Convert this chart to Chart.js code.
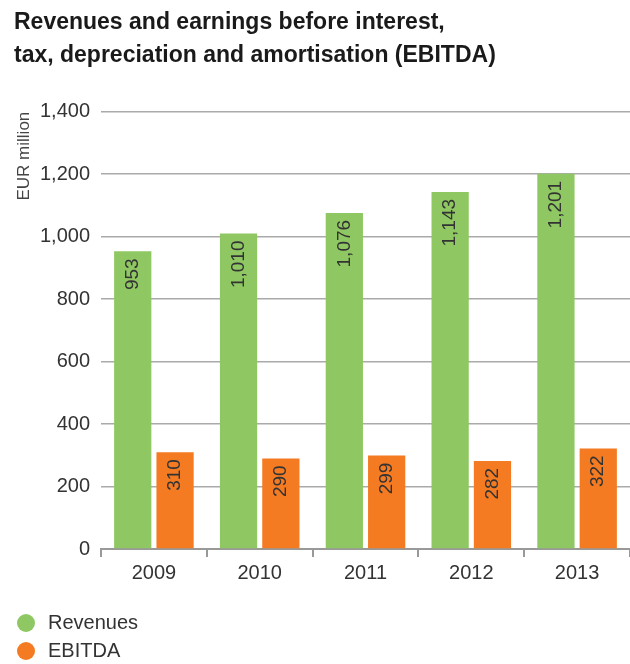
<!DOCTYPE html>
<html>
<head>
<meta charset="utf-8">
<script src="https://cdn.jsdelivr.net/npm/chart.js@4"></script>
<style>
  html, body { margin: 0; padding: 0; background: #fff; }
  #wrap { width: 630px; height: 664px; }
</style>
</head>
<body>
<div id="wrap"><canvas id="myChart"></canvas></div>
<script>
var years = ["2009", "2010", "2011", "2012", "2013"];
var revenues = [953, 1010, 1076, 1143, 1201];
var ebitda = [310, 290, 299, 282, 322];
var yTicks = [0, 200, 400, 600, 800, 1000, 1200, 1400];

var fontFamily = "'Liberation Sans', Arial, sans-serif";
var greenColor = "#8fc862";
var orangeColor = "#f47b22";

// numbers written upright inside the top of each bar
var barLabels = {
    id: "barLabels",
    afterDatasetsDraw: function (chart) {
        var ctx = chart.ctx;
        ctx.save();
        ctx.font = "19px " + fontFamily;
        ctx.fillStyle = "#333";
        ctx.textAlign = "right";
        ctx.textBaseline = "middle";
        chart.data.datasets.forEach(function (ds, i) {
            chart.getDatasetMeta(i).data.forEach(function (bar, j) {
                ctx.save();
                ctx.translate(bar.x, bar.y + 7);
                ctx.rotate(-Math.PI / 2);
                ctx.fillText(ds.data[j].toLocaleString("en-US"), 0, 0);
                ctx.restore();
            });
        });
        ctx.restore();
    }
};

// legend stacked in a column under the axis
var stackedLegend = {
    id: "stackedLegend",
    afterDraw: function (chart) {
        var ctx = chart.ctx;
        ctx.save();
        ctx.font = "20px " + fontFamily;
        ctx.textBaseline = "middle";
        chart.data.datasets.forEach(function (ds, i) {
            var y = chart.height - 41 + i * 28;
            ctx.fillStyle = ds.backgroundColor;
            ctx.beginPath();
            ctx.arc(26, y, 9, 0, Math.PI * 2);
            ctx.fill();
            ctx.fillStyle = "#333";
            ctx.fillText(ds.label, 48, y);
        });
        ctx.restore();
    }
};

new Chart("myChart", {
    type: "bar",
    data: {
        labels: years,
        datasets: [{
            label: "Revenues",
            backgroundColor: greenColor,
            data: revenues
        }, {
            label: "EBITDA",
            backgroundColor: orangeColor,
            data: ebitda
        }]
    },
    options: {
        responsive: true,
        maintainAspectRatio: false,
        animation: false,
        categoryPercentage: 0.8,
        barPercentage: 0.88,
        layout: {
            padding: { left: 14, right: 0, top: 0, bottom: 70 }
        },
        plugins: {
            legend: { display: false },
            tooltip: { enabled: false },
            title: {
                display: true,
                text: ["Revenues and earnings before interest,",
                       "tax, depreciation and amortisation (EBITDA)"],
                align: "start",
                color: "#1a1a1a",
                font: { family: fontFamily, size: 23, weight: "bold", lineHeight: 1.45 },
                padding: { top: 6, bottom: 39 }
            }
        },
        scales: {
            x: {
                grid: {
                    drawOnChartArea: false,
                    drawTicks: true,
                    tickLength: 8,
                    color: "#999",
                    lineWidth: 2
                },
                border: { display: true, color: "#999", width: 2 },
                ticks: {
                    color: "#333",
                    padding: 4,
                    font: { family: fontFamily, size: 20 }
                },
                afterFit: function (s) { s.height = 45; }
            },
            y: {
                min: 0,
                max: 1400,
                afterBuildTicks: function (s) {
                    s.ticks = yTicks.map(function (v) { return { value: v }; });
                },
                grid: {
                    drawTicks: false,
                    color: "#aaa",
                    lineWidth: 1.5
                },
                border: { display: false },
                ticks: {
                    color: "#333",
                    padding: 11,
                    font: { family: fontFamily, size: 20 },
                    callback: function (v) { return v.toLocaleString("en-US"); }
                },
                title: {
                    display: true,
                    text: "EUR million",
                    align: "end",
                    color: "#444",
                    padding: { top: 0, bottom: 0 },
                    font: { family: fontFamily, size: 17 }
                },
                afterFit: function (s) { s.width = 87; }
            }
        }
    },
    plugins: [barLabels, stackedLegend]
});
</script>
</body>
</html>
